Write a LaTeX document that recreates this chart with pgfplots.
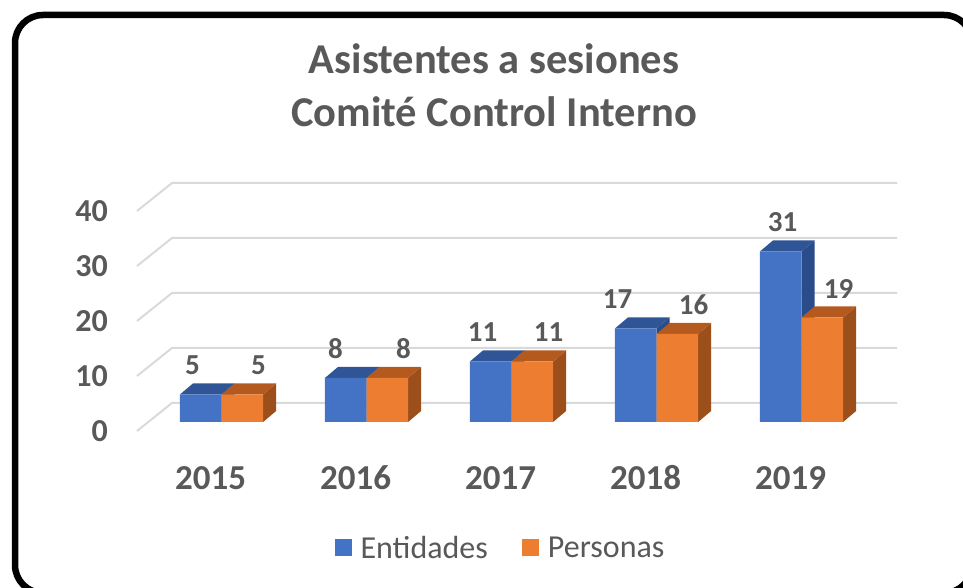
\documentclass[border=0pt]{standalone}
\usepackage{pgfplots}
\pgfplotsset{compat=1.18}
\usepackage{pgfplotstable}
\usepackage{fontspec}
\setmainfont{Carlito}
\definecolor{txt}{HTML}{595959}
\definecolor{gridc}{HTML}{D9D9D9}
\definecolor{cblue}{HTML}{4472C4}
\definecolor{btop}{HTML}{2F5597}
\definecolor{bside}{HTML}{2A4C8A}
\definecolor{corange}{HTML}{ED7D31}
\definecolor{otop}{HTML}{B45A1F}
\definecolor{oside}{HTML}{9C4F1B}

\pgfplotstableread{
x ent per bs
0 5 5 -29
1 8 8 -31
2 11 11 -29
3 17 16 -39
4 31 19 -19
}\data

\def\bw{0.2869}
\def\dx{0.0897}
\def\dy{2}

\newcommand\faces[4]{%
 \pgfplotsinvokeforeach{0,1,2,3,4}{%
  \pgfplotstablegetelem{##1}{#1}\of\data
  \pgfmathsetmacro\vv{\pgfplotsretval}%
  \pgfmathsetmacro\xa{##1+#2}%
  \pgfmathsetmacro\xb{\xa+\bw}%
  \pgfmathsetmacro\xad{\xa+\dx}%
  \pgfmathsetmacro\xbd{\xb+\dx}%
  \pgfmathsetmacro\vd{\vv+\dy}%
  \edef\tmp{\noexpand\addplot[fill=#4,draw=none,forget plot] coordinates {(\xb,0) (\xb,\vv) (\xbd,\vd) (\xbd,\dy)};
   \noexpand\addplot[fill=#3,draw=none,forget plot] coordinates {(\xa,\vv) (\xad,\vd) (\xbd,\vd) (\xb,\vv)};}%
  \tmp
 }%
}

\begin{document}
\begin{tikzpicture}
\useasboundingbox (0,0) rectangle (963pt,588pt);
\begin{scope}
\clip (0,0) rectangle (963pt,588pt);
\draw[line width=6.5pt, rounded corners=28pt] (15pt,573pt) rectangle (972pt,-5pt);
\end{scope}
\begin{axis}[
  at={(149pt,166pt)}, anchor=south west,
  x=145pt, y=5.5pt,
  xmin=-0.5, xmax=4.5, ymin=0, ymax=40,
  enlargelimits=false, clip=false,
  axis line style={draw=none},
  major tick length=0pt,
  /pgf/number format/assume math mode=true,
  ytick={0,10,20,30,40},
  yticklabel style={anchor=east, inner sep=0pt, xshift=-41pt, yshift=-9pt,
     font=\fontsize{32}{32}\selectfont\bfseries, text=txt},
  xtick={0,1,2,3,4},
  xticklabels={2015,2016,2017,2018,2019},
  xticklabel style={anchor=center, yshift=-56pt, xshift=-11pt,
     font=\fontsize{35}{35}\selectfont\bfseries, text=txt},
  title={Asistentes a sesiones\\Comité Control Interno},
  title style={at={(0.4759,1.505)}, anchor=center, align=center,
     font=\fontsize{42.5}{53}\selectfont\bfseries, text=txt},
  legend style={at={(0.4848,-0.5727)}, anchor=center, draw=none, fill=none,
     legend columns=2, font=\fontsize{32}{32}\selectfont, text=txt,
     /tikz/every even column/.append style={column sep=32pt}},
  legend cell align=left,
]
\pgfplotsinvokeforeach{0,10,20,30,40}{
  \draw[gridc, line width=2pt] ([xshift=-12pt,yshift=-9pt]axis cs:-0.5,#1) -- ([xshift=23pt,yshift=19pt]axis cs:-0.5,#1) -- ([xshift=23pt,yshift=19pt]axis cs:4.5,#1);
}
\faces{ent}{-\bw}{btop}{bside}
\addplot[ybar, bar width=41.6pt, bar shift=-20.8pt, fill=cblue, draw=none,
  legend image code/.code={\fill[cblue] (0pt,-8.5pt) rectangle (17pt,8.5pt); \path (24pt,0pt);},
  visualization depends on={\thisrow{bs}\as\bs},
  nodes near coords,
  every node near coord/.append style={anchor=center, yshift=29pt, xshift=\bs pt,
     font=\fontsize{29}{29}\selectfont\bfseries, text=txt}]
  table[x=x, y=ent] {\data};
\addlegendentry{Entidades}
\faces{per}{0}{otop}{oside}
\addplot[ybar, bar width=41.6pt, bar shift=20.8pt, fill=corange, draw=none,
  legend image code/.code={\fill[corange] (0pt,-8.5pt) rectangle (17pt,8.5pt); \path (24pt,0pt);},
  nodes near coords,
  every node near coord/.append style={anchor=center, yshift=29pt, xshift=37pt,
     font=\fontsize{29}{29}\selectfont\bfseries, text=txt}]
  table[x=x, y=per] {\data};
\addlegendentry{Personas}
\end{axis}
\end{tikzpicture}
\end{document}
